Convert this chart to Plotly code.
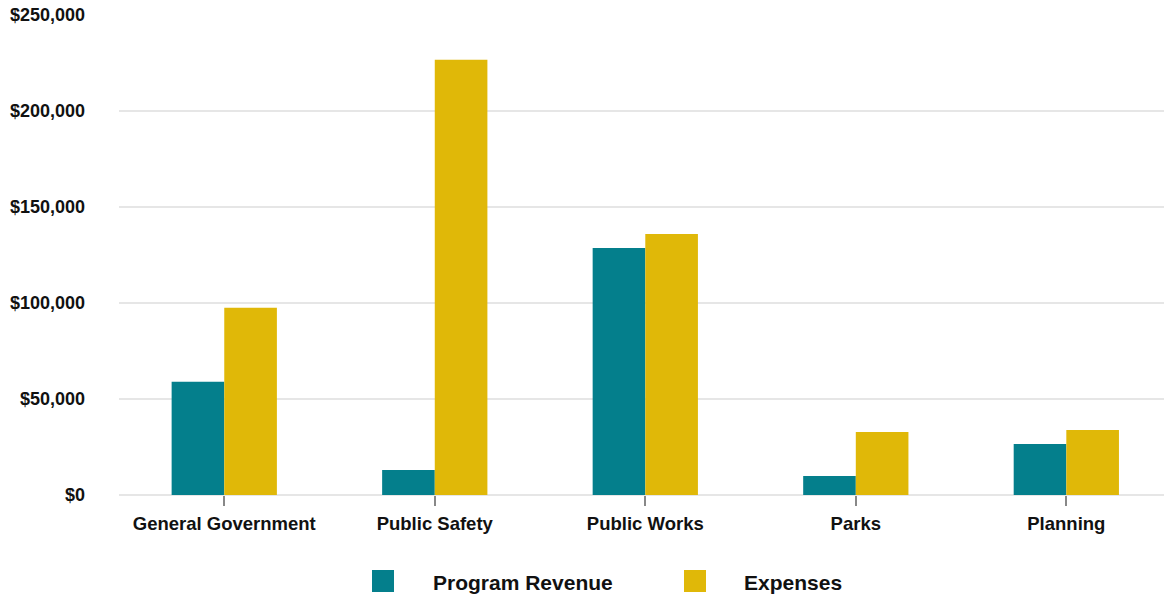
import plotly.graph_objects as go

categories = ["General Government", "Public Safety", "Public Works", "Parks", "Planning"]
program_revenue = [59000, 13000, 128700, 9900, 26600]
expenses = [97500, 226700, 136000, 32800, 33900]
series_names = ["Program Revenue", "Expenses"]
colors = ["#047F8C", "#E0B808"]

W, H = 1164, 595
L, R, T, B = 119, 0, 15, 100

fig = go.Figure()
for name, vals, col in zip(series_names, [program_revenue, expenses], colors):
    fig.add_trace(go.Bar(x=categories, y=vals, name=name, marker=dict(color=col, line=dict(width=0)),
                         showlegend=False))

font = dict(family="Liberation Sans, Arial, sans-serif", size=18.5, color="#111111", weight="bold")

fig.update_layout(
    width=W, height=H,
    margin=dict(l=L, r=R, t=T, b=B, pad=0),
    paper_bgcolor="white", plot_bgcolor="white",
    barmode="group", bargap=0.5, bargroupgap=0,
    font=font,
    xaxis=dict(range=[-0.5, 4.464], showgrid=False, showline=False, zeroline=False,
               ticks="outside", ticklen=10, tickwidth=2, tickcolor="#888888",
               ticklabelstandoff=2, tickfont=font),
    yaxis=dict(range=[0, 250000], dtick=50000, tickprefix="$", tickformat=",.0f",
               showgrid=True, gridcolor="#E6E6E6", gridwidth=2,
               zeroline=True, zerolinecolor="#E6E6E6", zerolinewidth=2,
               showline=False, ticks="", ticklabelstandoff=33,
               tickfont=dict(family="Liberation Sans, Arial, sans-serif", size=18,
                             color="#111111", weight="bold")),
)

# custom legend (large square swatches)
plot_w = W - L - R
plot_h = H - T - B
def px_x(x):
    return (x - L) / plot_w
def px_y(y):
    return (H - B - y) / plot_h

legend_items = [(series_names[0], colors[0], 372, 431), (series_names[1], colors[1], 684, 742)]
for name, col, sx, tx in legend_items:
    fig.add_shape(type="rect", xref="paper", yref="paper",
                  x0=px_x(sx), x1=px_x(sx + 22), y0=px_y(570), y1=px_y(592),
                  fillcolor=col, line=dict(width=0))
    fig.add_annotation(xref="paper", yref="paper", x=px_x(tx), y=px_y(582),
                       xanchor="left", yanchor="middle", text=name, showarrow=False,
                       font=dict(family="Liberation Sans, Arial, sans-serif", size=21,
                                 color="#111111", weight="bold"))

fig.write_html("out.html", config={"displayModeBar": False},
               post_script="document.body.style.margin='0';")
